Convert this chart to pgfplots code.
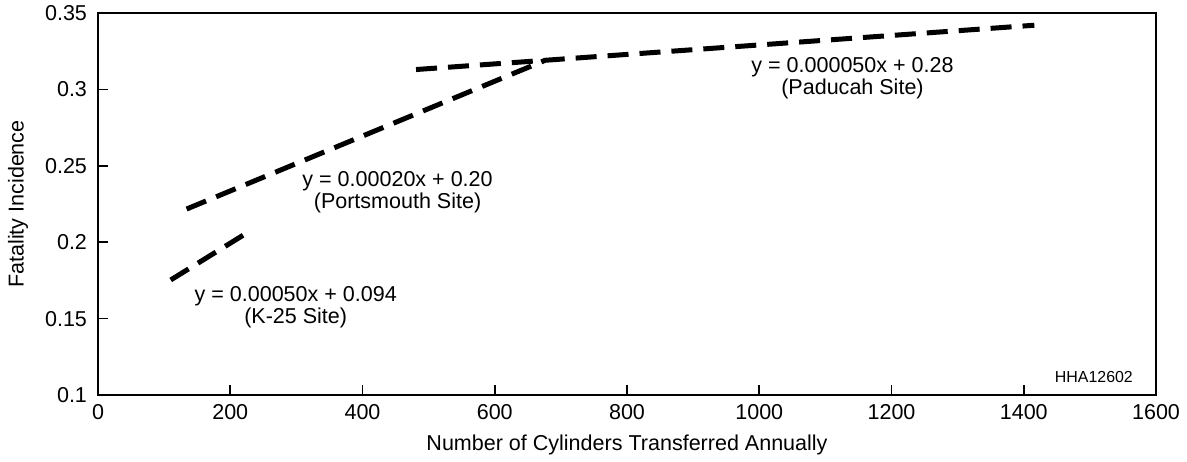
\documentclass[border=0pt]{standalone}
\usepackage{fontspec}
\setmainfont{Liberation Sans}
\usepackage{pgfplots}
\pgfplotsset{compat=1.18}
\begin{document}
\begin{tikzpicture}[x=1bp,y=1bp]
\begin{axis}[
  at={(0,0)}, anchor=south west,
  scale only axis, width=529bp, height=191bp,
  xmin=0, xmax=1600, ymin=0.1, ymax=0.35,
  xtick={0,200,...,1600}, ytick={0.1,0.15,...,0.36},
  yticklabels={0.1,0.15,0.2,0.25,0.3,0.35},
  xtick pos=lower, ytick pos=left, tick align=inside,
  major tick length=5bp,
  axis line style={line width=1bp}, tick style={line width=0.8bp,black},
  /pgf/number format/assume math mode=true,
  /pgf/number format/1000 sep={},
  tick label style={font=\fontsize{10.8}{12}\selectfont},
  label style={font=\fontsize{10.8}{12}\selectfont},
  xlabel={Number of Cylinders Transferred Annually},
  ylabel={Fatality Incidence},
  xlabel style={at={(axis description cs:0.5,-0.131)}, anchor=center},
  ylabel style={at={(axis description cs:-0.0756,0.5)}, anchor=center},
  xticklabel style={yshift=-1bp},
  yticklabel style={xshift=-2bp},
  clip=false,
]
\addplot[black, line width=2.5bp, dash pattern=on 10.5bp off 5.5bp] coordinates {(110,0.1753) (220,0.2047)};
\addplot[black, line width=2.5bp, dash pattern=on 10.5bp off 5.5bp] coordinates {(134,0.2217) (676,0.319)};
\addplot[black, line width=2.5bp, dash pattern=on 10.5bp off 5.5bp] coordinates {(481,0.313) (1416,0.342)};
\node[align=center, font=\fontsize{10.8}{10}\selectfont] at (axis cs:299,0.1576) {y = 0.00050x + 0.094\\(K-25 Site)};
\node[align=center, font=\fontsize{10.8}{10}\selectfont] at (axis cs:453,0.2329) {y = 0.00020x + 0.20\\(Portsmouth Site)};
\node[align=center, font=\fontsize{10.8}{10}\selectfont] at (axis cs:1141,0.3075) {y = 0.000050x + 0.28\\(Paducah Site)};
\node[font=\fontsize{8}{9}\selectfont] at (axis cs:1506,0.112) {HHA12602};
\end{axis}
\pgfresetboundingbox
\path[use as bounding box] (-49,-33) rectangle (544.5,197.5);
\end{tikzpicture}
\end{document}
